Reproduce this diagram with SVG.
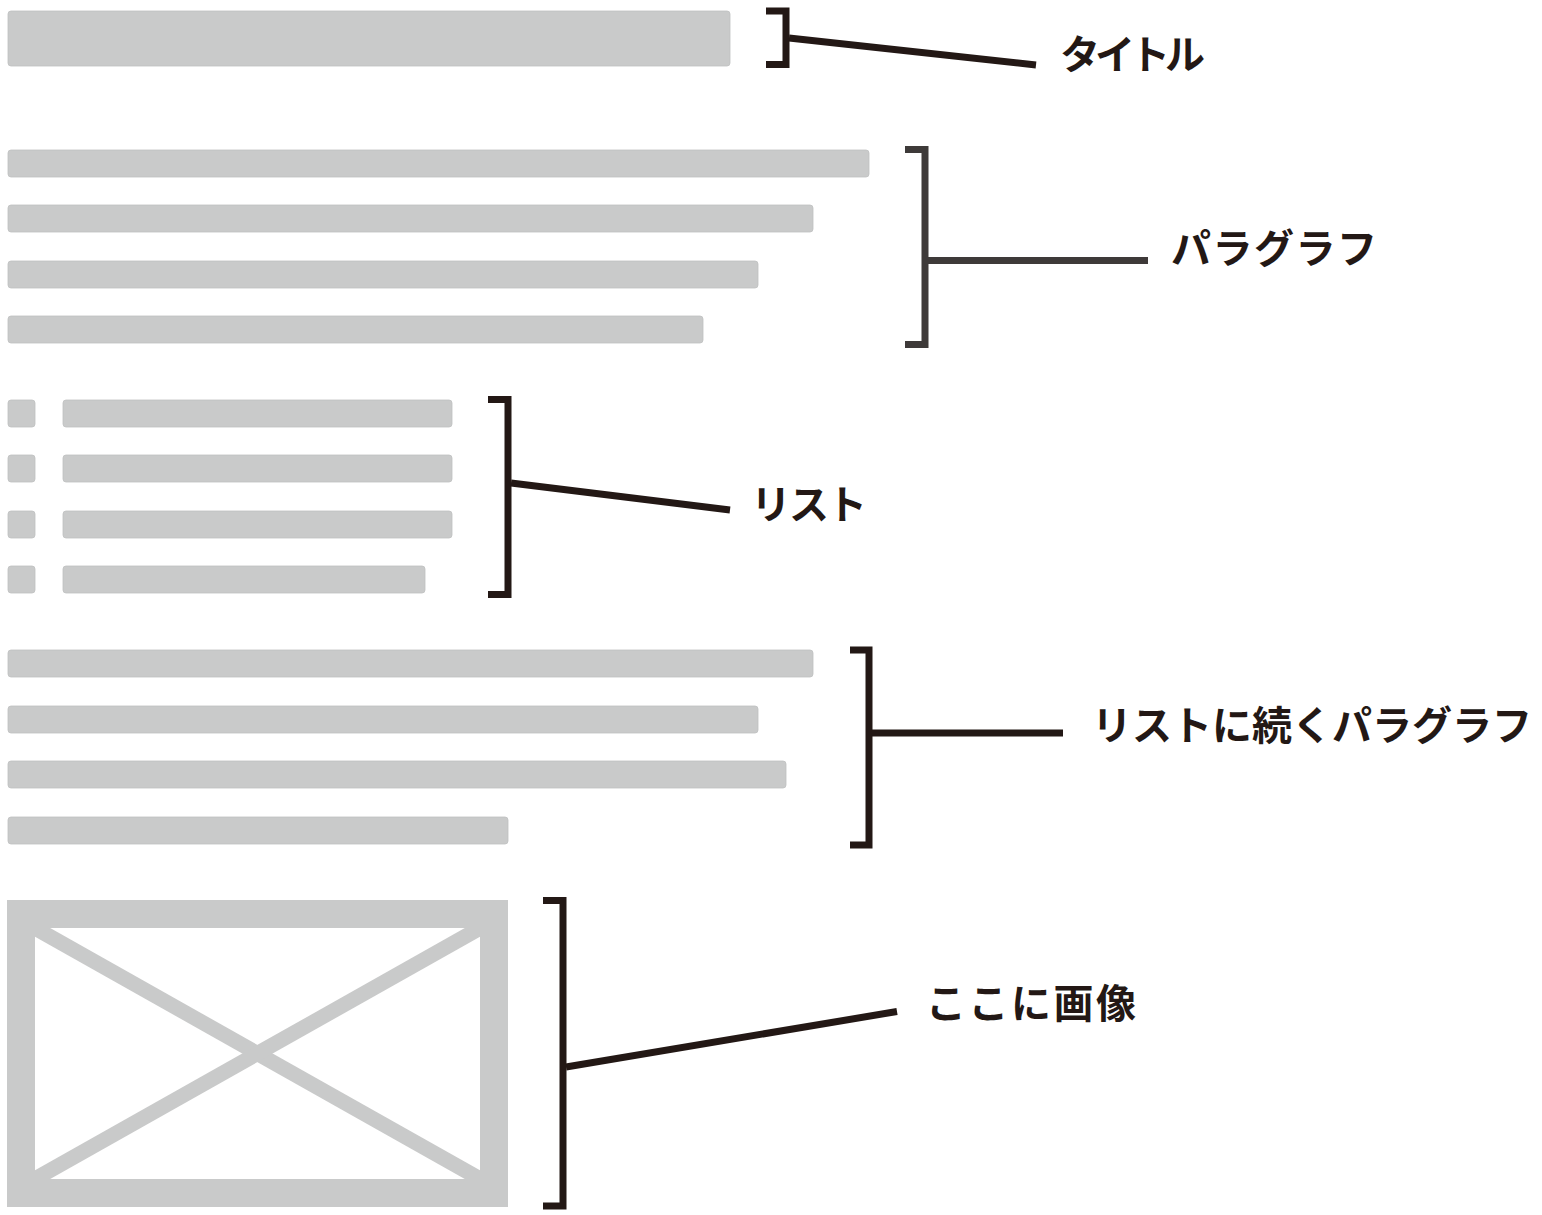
<svg xmlns="http://www.w3.org/2000/svg" width="1542" height="1215" viewBox="0 0 1542 1215">
<style>
.bar{fill:#c9caca;stroke:#bfc0c0;stroke-width:0.8}
.br{fill:none;stroke:#231815;stroke-width:7;stroke-linecap:butt;stroke-linejoin:miter}
.br2{fill:none;stroke:#3e3a39;stroke-width:7;stroke-linecap:butt;stroke-linejoin:miter}
.lbl{font-family:"Noto Sans CJK JP","Noto Sans CJK SC",sans-serif;font-size:40px;font-weight:700;fill:#231815}
.img{fill:#c9caca}
.x{stroke:#c9caca;stroke-width:15}
</style>
<defs>
<clipPath id="inner"><rect x="35" y="928" width="445" height="251"/></clipPath>
</defs>
<rect width="1542" height="1215" fill="#ffffff"/>

<g id="title-block">
<rect class="bar" x="8" y="11" width="722" height="55" rx="3"/>
</g>

<g id="paragraph-block">
<rect class="bar" x="8" y="150" width="861" height="27" rx="3"/>
<rect class="bar" x="8" y="205" width="805" height="27" rx="3"/>
<rect class="bar" x="8" y="261" width="750" height="27" rx="3"/>
<rect class="bar" x="8" y="316" width="695" height="27" rx="3"/>
</g>

<g id="list-block">
<rect class="bar" x="8" y="400" width="27" height="27" rx="3"/>
<rect class="bar" x="63" y="400" width="389" height="27" rx="3"/>
<rect class="bar" x="8" y="455" width="27" height="27" rx="3"/>
<rect class="bar" x="63" y="455" width="389" height="27" rx="3"/>
<rect class="bar" x="8" y="511" width="27" height="27" rx="3"/>
<rect class="bar" x="63" y="511" width="389" height="27" rx="3"/>
<rect class="bar" x="8" y="566" width="27" height="27" rx="3"/>
<rect class="bar" x="63" y="566" width="362" height="27" rx="3"/>
</g>

<g id="following-paragraph-block">
<rect class="bar" x="8" y="650" width="805" height="27" rx="3"/>
<rect class="bar" x="8" y="706" width="750" height="27" rx="3"/>
<rect class="bar" x="8" y="761" width="778" height="27" rx="3"/>
<rect class="bar" x="8" y="817" width="500" height="27" rx="3"/>
</g>

<g id="image-block">
<path class="img" fill-rule="evenodd" d="M7 900H508V1207H7Z M35 928V1179H480V928Z"/>
<g clip-path="url(#inner)">
<line class="x" x1="0" y1="908.3" x2="515" y2="1198.7"/>
<line class="x" x1="0" y1="1198.7" x2="515" y2="908.3"/>
</g>
</g>

<g id="connectors">
<path class="br" d="M766 11H786V64.5H766"/>
<line class="br" x1="789" y1="38" x2="1036" y2="65"/>
<path class="br2" d="M905 149.5H925V344.5H905"/>
<line class="br2" x1="928" y1="260.5" x2="1148" y2="260.5"/>
<path class="br" d="M488 399.5H508V594.5H488"/>
<line class="br" x1="511" y1="483" x2="730" y2="510"/>
<path class="br" d="M850 650H869V845H850"/>
<line class="br" x1="872" y1="733" x2="1063" y2="733"/>
<path class="br" d="M543 900.5H563V1206H543"/>
<line class="br" x1="566" y1="1067" x2="897" y2="1011.5"/>
</g>

<g id="labels">
<text class="lbl" x="1060" y="69" letter-spacing="-5">タイトル</text>
<text class="lbl" x="1171" y="263" letter-spacing="1.5">パラグラフ</text>
<text class="lbl" x="751" y="519" letter-spacing="-2">リスト</text>
<text class="lbl" x="1092" y="740">リストに続くパラグラフ</text>
<text class="lbl" x="926" y="1018" letter-spacing="2.5">ここに画像</text>
</g>
</svg>
